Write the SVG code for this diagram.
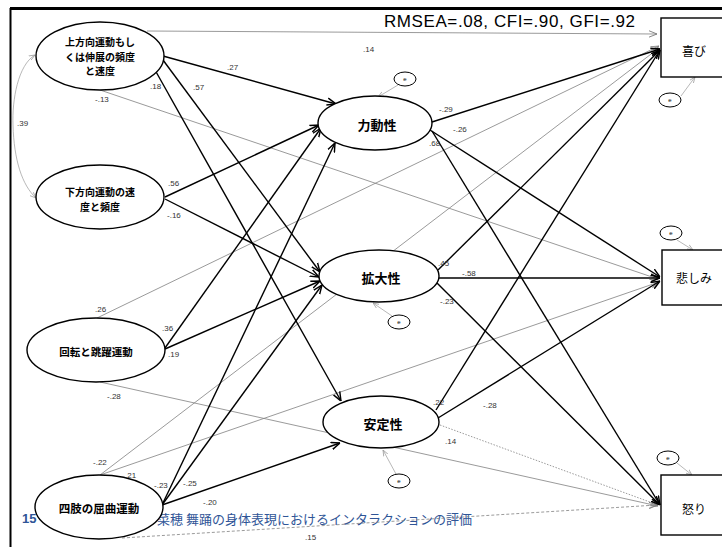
<svg xmlns="http://www.w3.org/2000/svg" width="722" height="547" viewBox="0 0 722 547">
<style>
.frame{stroke:#000;fill:none}
.nd{fill:#fff;stroke:#000;stroke-width:1.4}
.er{fill:#fff;stroke:#000;stroke-width:1}
.jp{font-family:"Noto Sans CJK JP","Liberation Sans",sans-serif;font-weight:bold;fill:#000;text-anchor:middle}
.bx{font-family:"Noto Sans CJK JP","Liberation Sans",sans-serif;fill:#000;text-anchor:middle;font-size:12px}
.lb{font-family:"Liberation Sans",sans-serif;font-size:8px;fill:#333}
.et{font-family:"Liberation Sans",sans-serif;font-size:6px;fill:#000;text-anchor:middle}
.tk{stroke:#000;stroke-width:1.4;fill:none;marker-end:url(#ah)}
.tn{stroke:#808080;stroke-width:0.8;fill:none;marker-end:url(#ahg)}
.ee{stroke:#999;stroke-width:0.7;fill:none;marker-end:url(#ahs)}
</style>
<defs>
<marker id="ah" viewBox="0 0 10 10" refX="10" refY="5" markerWidth="9" markerHeight="9" orient="auto" markerUnits="userSpaceOnUse"><path d="M0,1 L10,5 L0,9" fill="none" stroke="#000" stroke-width="1.6"/></marker>
<marker id="ahg" viewBox="0 0 10 10" refX="10" refY="5" markerWidth="8" markerHeight="8" orient="auto" markerUnits="userSpaceOnUse"><path d="M0,1 L10,5 L0,9" fill="none" stroke="#808080" stroke-width="1.2"/></marker>
<marker id="ahs" viewBox="0 0 10 10" refX="10" refY="5" markerWidth="6" markerHeight="6" orient="auto" markerUnits="userSpaceOnUse"><path d="M0,1 L10,5 L0,9" fill="none" stroke="#999" stroke-width="1.2"/></marker>
<marker id="ahst" viewBox="0 0 10 10" refX="0" refY="5" markerWidth="6" markerHeight="6" orient="auto" markerUnits="userSpaceOnUse"><path d="M10,1 L0,5 L10,9" fill="none" stroke="#999" stroke-width="1.2"/></marker>
</defs>
<rect width="722" height="547" fill="#fff"/>
<line class="frame" x1="10" y1="8.5" x2="722" y2="8.5" stroke-width="3"/>
<line class="frame" x1="10.5" y1="8" x2="10.5" y2="547" stroke-width="2"/>
<text x="384" y="27" font-family="Liberation Sans, sans-serif" font-size="17" textLength="251" fill="#000">RMSEA=.08, CFI=.90, GFI=.92</text>
<text x="22" y="523" font-family="Liberation Sans, sans-serif" font-size="13" font-weight="bold" fill="#2F5597">15</text>
<text x="157" y="524" font-family="Noto Sans CJK JP, Liberation Sans, sans-serif" font-size="13" fill="#2F5597">菜穂  舞踊の身体表現におけるインタラクションの評価</text>
<g id="connectors">
<path d="M35,55 C18,65 12,100 13,125 C14,160 22,185 36,198" stroke="#999" stroke-width="0.7" fill="none" marker-end="url(#ahs)" marker-start="url(#ahst)"/>
<line class="tn" x1="147" y1="31" x2="657" y2="34"/>
<line class="tn" x1="100" y1="90" x2="658" y2="279"/>
<line class="tn" x1="97" y1="318" x2="659" y2="46"/>
<line class="tn" x1="100" y1="382" x2="658" y2="506"/>
<line class="tn" x1="100" y1="475" x2="659" y2="48"/>
<line class="tn" x1="100" y1="475" x2="659" y2="282"/>
<line class="tn" x1="122" y1="538" x2="657" y2="505" stroke="#aaa" stroke-dasharray="3,2"/>
<line class="tn" x1="440" y1="425" x2="658" y2="505" stroke="#aaa" stroke-dasharray="1.5,1.5"/>
<line class="tk" x1="163" y1="56" x2="336" y2="104"/>
<line class="tk" x1="163" y1="60" x2="320" y2="272"/>
<line class="tk" x1="155" y1="70" x2="341" y2="401"/>
<line class="tk" x1="165" y1="197" x2="319" y2="125"/>
<line class="tk" x1="165" y1="199" x2="319" y2="277"/>
<line class="tk" x1="165" y1="348" x2="321" y2="128"/>
<line class="tk" x1="165" y1="349" x2="320" y2="281"/>
<line class="tk" x1="162" y1="505" x2="335" y2="143"/>
<line class="tk" x1="162" y1="505" x2="322" y2="285"/>
<line class="tk" x1="162" y1="505" x2="340" y2="443"/>
<line class="tk" x1="432" y1="122" x2="660" y2="49"/>
<line class="tk" x1="430" y1="130" x2="660" y2="277"/>
<line class="tk" x1="432" y1="131" x2="660" y2="505"/>
<line class="tk" x1="438" y1="270" x2="660" y2="50"/>
<line class="tk" x1="439" y1="278" x2="660" y2="278"/>
<line class="tk" x1="437" y1="283" x2="660" y2="505"/>
<line class="tk" x1="436" y1="410" x2="660" y2="50"/>
<line class="tk" x1="438" y1="418" x2="660" y2="281"/>
<line class="ee" x1="398" y1="85" x2="378" y2="97"/>
<line class="ee" x1="681" y1="96" x2="695" y2="77"/>
<line class="ee" x1="677" y1="240" x2="693" y2="250"/>
<line class="ee" x1="392" y1="316" x2="373" y2="303"/>
<line class="ee" x1="396" y1="474" x2="383" y2="450"/>
<line class="ee" x1="677" y1="463" x2="692" y2="475"/>
</g>
<g id="n-up"><ellipse class="nd" cx="100" cy="56" rx="64" ry="34"/><text class="jp" font-size="10" x="100" y="46">上方向運動もし<tspan x="100" dy="14.6">くは伸展の頻度</tspan><tspan x="100" dy="14.6">と速度</tspan></text></g>
<g id="n-down"><ellipse class="nd" cx="100" cy="197" rx="64" ry="32"/><text class="jp" font-size="10" x="100" y="196">下方向運動の速<tspan x="100" dy="14.6">度と頻度</tspan></text></g>
<g id="n-rot"><ellipse class="nd" cx="96" cy="350" rx="69" ry="32"/><text class="jp" font-size="10.5" x="96" y="356">回転と跳躍運動</text></g>
<g id="n-limb"><ellipse class="nd" cx="99" cy="507" rx="64" ry="32"/><text class="jp" font-size="11.5" x="99" y="513">四肢の屈曲運動</text></g>
<g id="n-power"><ellipse class="nd" cx="375" cy="123" rx="57" ry="27"/><text class="jp" font-size="13" x="377" y="130">力動性</text></g>
<g id="n-expand"><ellipse class="nd" cx="379" cy="276" rx="60" ry="26"/><text class="jp" font-size="13" x="381" y="283">拡大性</text></g>
<g id="n-stable"><ellipse class="nd" cx="381" cy="422" rx="58" ry="26"/><text class="jp" font-size="13" x="383" y="429">安定性</text></g>
<g id="n-joy"><rect class="nd" x="661" y="18" width="64" height="59"/><text class="bx" x="694" y="56">喜び</text></g>
<g id="n-sad"><rect class="nd" x="662" y="250" width="64" height="55"/><text class="bx" x="694" y="283">悲しみ</text></g>
<g id="n-anger"><rect class="nd" x="661" y="475" width="64" height="60"/><text class="bx" x="694" y="514">怒り</text></g>
<g id="e-power"><ellipse class="er" cx="405" cy="79" rx="11" ry="7"/><text class="et" x="405" y="81">e</text></g>
<g id="e-joy"><ellipse class="er" cx="670" cy="100" rx="11" ry="7"/><text class="et" x="670" y="102">e</text></g>
<g id="e-sad"><ellipse class="er" cx="671" cy="233" rx="11" ry="7"/><text class="et" x="671" y="235">e</text></g>
<g id="e-expand"><ellipse class="er" cx="399" cy="322" rx="11" ry="7"/><text class="et" x="399" y="324">e</text></g>
<g id="e-stable"><ellipse class="er" cx="399" cy="481" rx="11" ry="7"/><text class="et" x="399" y="483">e</text></g>
<g id="e-anger"><ellipse class="er" cx="668" cy="458" rx="11" ry="7"/><text class="et" x="668" y="460">e</text></g>
<g id="labels">
<text class="lb" x="363" y="52">.14</text>
<text class="lb" x="227" y="70">.27</text>
<text class="lb" x="150" y="89">.18</text>
<text class="lb" x="193" y="90">.57</text>
<text class="lb" x="95" y="102">-.13</text>
<text class="lb" x="17" y="126">.39</text>
<text class="lb" x="168" y="186">.56</text>
<text class="lb" x="167" y="218">-.16</text>
<text class="lb" x="439" y="112">-.29</text>
<text class="lb" x="453" y="132">-.26</text>
<text class="lb" x="429" y="146">.68</text>
<text class="lb" x="438" y="266">.45</text>
<text class="lb" x="462" y="276">-.58</text>
<text class="lb" x="440" y="304">-.23</text>
<text class="lb" x="95" y="312">.26</text>
<text class="lb" x="162" y="331">.36</text>
<text class="lb" x="168" y="357">.19</text>
<text class="lb" x="107" y="399">-.28</text>
<text class="lb" x="433" y="405">.22</text>
<text class="lb" x="483" y="408">-.28</text>
<text class="lb" x="445" y="444">.14</text>
<text class="lb" x="93" y="465">-.22</text>
<text class="lb" x="125" y="478">.21</text>
<text class="lb" x="154" y="488">-.23</text>
<text class="lb" x="183" y="486">-.25</text>
<text class="lb" x="203" y="505">-.20</text>
<text class="lb" x="305" y="540">.15</text>
</g>
</svg>
